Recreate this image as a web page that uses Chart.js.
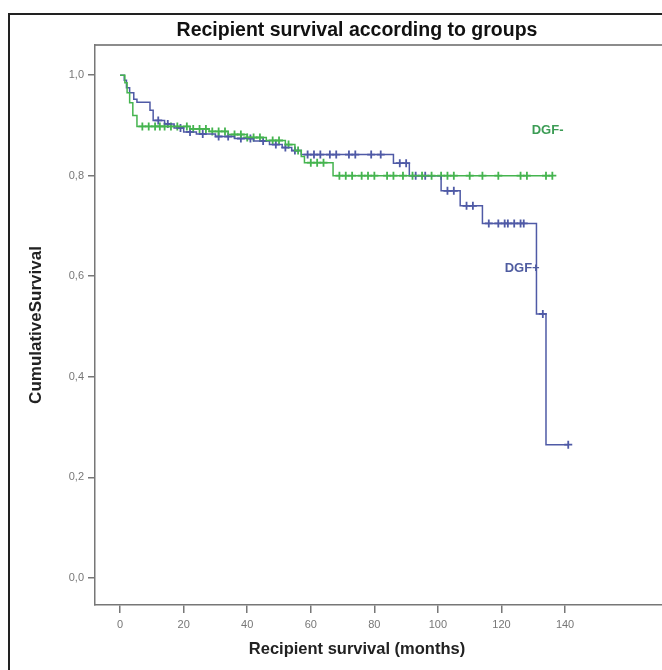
<!DOCTYPE html>
<html>
<head>
<meta charset="utf-8">
<script src="https://cdn.jsdelivr.net/npm/chart.js@4.4.1/dist/chart.umd.min.js"></script>
<style>
  body { margin: 0; background: #fff; overflow: hidden; }
  #wrap { position: relative; width: 662px; height: 670px; }
  .lbl {
    position: absolute; text-align: center; color: #111;
    font-family: "Liberation Sans", Arial, sans-serif; font-weight: bold; white-space: nowrap;
  }
  #title { left: 107px; width: 500px; top: 18px; font-size: 19.5px; }
  #xtitle { left: 207px; width: 300px; top: 639px; font-size: 16.5px; color: #222; }
</style>
</head>
<body>
<div id="wrap">
  <canvas id="km" width="662" height="670"></canvas>
  <div id="title" class="lbl">Recipient survival according to groups</div>
  <div id="xtitle" class="lbl">Recipient survival (months)</div>
</div>
<script>
// Kaplan-Meier steps (months, cumulative survival)
const dgfMinusTime = [0, 1.5, 2.2, 3, 4, 5.3, 22, 28, 34, 40, 46, 52, 55, 57, 58, 67, 136];
const dgfMinusSurv = [1.0, 0.985, 0.965, 0.945, 0.92, 0.898, 0.893, 0.888, 0.882, 0.876, 0.87, 0.862, 0.85, 0.838, 0.826, 0.80, 0.80];
const dgfMinusCensor = [7, 9, 11, 12.5, 14, 16, 18, 21, 23, 25, 27, 29, 31, 33, 36, 38, 40, 42, 44, 48, 50, 53, 56,
  60, 62, 64, 69, 71, 73, 76, 78, 80, 84, 86, 89, 92, 95, 98, 101, 103, 105, 110, 114, 119, 126, 128, 134, 136];

const dgfPlusTime = [0, 1.3, 2, 3, 4.3, 5.3, 9.4, 10.4, 14, 17, 20, 24, 30, 36, 42, 47, 51, 54, 57, 86, 91, 101, 107, 114, 131, 134, 141];
const dgfPlusSurv = [1.0, 0.99, 0.975, 0.965, 0.952, 0.946, 0.93, 0.91, 0.903, 0.895, 0.887, 0.883, 0.878, 0.874, 0.869, 0.862, 0.856, 0.85, 0.842, 0.825, 0.80, 0.77, 0.74, 0.705, 0.525, 0.265, 0.265];
const dgfPlusCensor = [12, 15, 19, 22, 26, 31, 34, 38, 41, 45, 49, 52, 55, 59, 61, 63, 66, 68, 72, 74, 79, 82,
  88, 90, 93, 96, 103, 105, 109, 111, 116, 119, 121, 122, 124, 126, 127, 133, 141];

const xTicks = [0, 20, 40, 60, 80, 100, 120, 140];
const yTicks = [0, 0.2, 0.4, 0.6, 0.8, 1.0];

const GREEN = '#45b44f';
const BLUE = '#4f5aa6';
const FONT = '"Liberation Sans", Arial, sans-serif';

function steps(times, survs) {
  return times.map((t, i) => ({ x: t, y: survs[i] }));
}

// censored cases sit on the curve at the value in force at that time
function censorPoints(censor, times, survs) {
  return censor.map(t => {
    let s = survs[0];
    for (let i = 0; i < times.length; i++) {
      if (times[i] <= t) s = survs[i];
    }
    return { x: t, y: s };
  });
}

// outer frame, top of plot frame and group labels
const framePlugin = {
  id: 'frame',
  beforeDraw(chart) {
    const { ctx, chartArea } = chart;
    ctx.save();
    ctx.strokeStyle = '#222';
    ctx.lineWidth = 2;
    ctx.beginPath();
    ctx.moveTo(9, 670);
    ctx.lineTo(9, 14);
    ctx.lineTo(662, 14);
    ctx.stroke();
    ctx.strokeStyle = '#666';
    ctx.lineWidth = 1.5;
    ctx.beginPath();
    ctx.moveTo(chartArea.left, chartArea.top);
    ctx.lineTo(662, chartArea.top);
    ctx.stroke();
    ctx.restore();
  },
  afterDatasetsDraw(chart) {
    const { ctx, scales } = chart;
    ctx.save();
    ctx.font = 'bold 13px ' + FONT;
    ctx.textAlign = 'center';
    ctx.textBaseline = 'middle';
    ctx.fillStyle = '#3c9c55';
    ctx.fillText('DGF-', scales.x.getPixelForValue(134.5), scales.y.getPixelForValue(0.891));
    ctx.fillStyle = '#4f5ca0';
    ctx.fillText('DGF+', scales.x.getPixelForValue(126.5), scales.y.getPixelForValue(0.616));
    ctx.restore();
  }
};

new Chart(document.getElementById('km'), {
  type: 'scatter',
  data: {
    datasets: [
      {
        label: 'DGF-',
        data: steps(dgfMinusTime, dgfMinusSurv),
        showLine: true, stepped: true,
        borderColor: GREEN, borderWidth: 1.5, pointRadius: 0
      },
      {
        label: 'DGF+',
        data: steps(dgfPlusTime, dgfPlusSurv),
        showLine: true, stepped: true,
        borderColor: BLUE, borderWidth: 1.5, pointRadius: 0
      },
      {
        label: 'DGF- censored',
        data: censorPoints(dgfMinusCensor, dgfMinusTime, dgfMinusSurv),
        pointStyle: 'cross', pointRadius: 4, borderColor: GREEN, borderWidth: 1.8
      },
      {
        label: 'DGF+ censored',
        data: censorPoints(dgfPlusCensor, dgfPlusTime, dgfPlusSurv),
        pointStyle: 'cross', pointRadius: 4, borderColor: BLUE, borderWidth: 1.8
      }
    ]
  },
  options: {
    responsive: false,
    animation: false,
    layout: { autoPadding: false, padding: { top: 45, right: 0, left: 0, bottom: 0 } },
    plugins: {
      legend: { display: false },
      tooltip: { enabled: false }
    },
    scales: {
      x: {
        type: 'linear',
        min: -7.9, max: 170.5,
        afterBuildTicks: s => { s.ticks = xTicks.map(v => ({ value: v })); },
        afterFit: s => { s.height = 65; },
        border: { color: '#777', width: 1.5 },
        grid: { drawOnChartArea: false, tickLength: 8, color: '#777', lineWidth: 1.5 },
        ticks: { color: '#777', font: { family: FONT, size: 11 }, padding: 5, maxRotation: 0 }
      },
      y: {
        min: -0.054, max: 1.06,
        afterBuildTicks: s => { s.ticks = yTicks.map(v => ({ value: v })); },
        afterFit: s => { s.width = 95; },
        border: { color: '#777', width: 1.5 },
        grid: { drawOnChartArea: false, tickLength: 7, color: '#777', lineWidth: 1.5 },
        ticks: {
          color: '#777', font: { family: FONT, size: 11 }, padding: 4,
          callback: v => v.toFixed(1).replace('.', ',')
        },
        title: {
          display: true, text: 'CumulativeSurvival', color: '#222',
          font: { family: FONT, size: 17, weight: 'bold' }, padding: { top: 26, bottom: 0 }
        }
      }
    }
  },
  plugins: [framePlugin]
});
</script>
</body>
</html>
